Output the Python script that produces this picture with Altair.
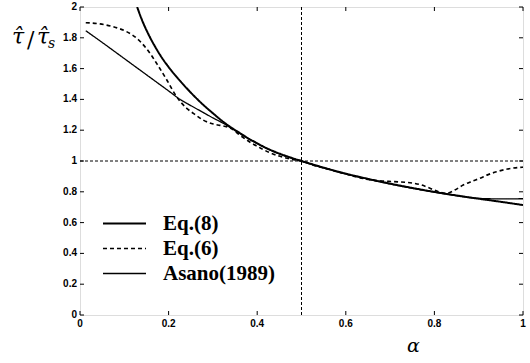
import altair as alt
import pandas as pd

# ---- data ----
series_names = ["Eq.(8)", "Eq.(6)", "Asano(1989)"]

alpha_eq8 = [0.129, 0.14, 0.155, 0.17, 0.185, 0.2, 0.22, 0.24, 0.26, 0.28,
             0.3, 0.32, 0.34, 0.36, 0.38, 0.4, 0.42, 0.44, 0.46, 0.48,
             0.5, 0.55, 0.6, 0.65, 0.7, 0.75, 0.8, 0.85, 0.9, 0.95, 1.0]
tau_eq8 = [2.0, 1.915, 1.82, 1.74, 1.67, 1.61, 1.54, 1.475, 1.415, 1.36,
           1.31, 1.262, 1.22, 1.183, 1.147, 1.115, 1.085, 1.06, 1.038, 1.018,
           1.0, 0.957, 0.918, 0.884, 0.853, 0.825, 0.799, 0.776, 0.755, 0.735, 0.714]

alpha_eq6 = [0.013, 0.045, 0.075, 0.105, 0.128, 0.15, 0.173, 0.196, 0.218, 0.241,
             0.256, 0.278, 0.301, 0.324, 0.339, 0.36, 0.384, 0.41, 0.429, 0.45,
             0.474, 0.5, 0.53, 0.564, 0.6, 0.64, 0.677, 0.71, 0.745, 0.77,
             0.79, 0.81, 0.828, 0.845, 0.865, 0.885, 0.903, 0.92, 0.94, 0.965, 0.99, 1.0]
tau_eq6 = [1.898, 1.89, 1.872, 1.84, 1.797, 1.73, 1.634, 1.526, 1.418, 1.342,
           1.309, 1.266, 1.24, 1.227, 1.215, 1.17, 1.122, 1.08, 1.053, 1.032,
           1.013, 1.0, 0.97, 0.944, 0.916, 0.886, 0.871, 0.866, 0.859, 0.845,
           0.823, 0.80, 0.79, 0.81, 0.844, 0.868, 0.888, 0.91, 0.93, 0.948, 0.958, 0.96]

alpha_asano = [0.013, 0.05, 0.1, 0.15, 0.2, 0.226, 0.25, 0.275, 0.3, 0.32,
               0.34, 0.36, 0.38, 0.4, 0.42, 0.44, 0.46, 0.48, 0.5, 0.55,
               0.6, 0.65, 0.7, 0.75, 0.8, 0.85, 0.9, 0.95, 1.0]
tau_asano = [1.846, 1.77, 1.665, 1.56, 1.455, 1.40, 1.36, 1.32, 1.28, 1.25,
             1.216, 1.18, 1.145, 1.113, 1.083, 1.057, 1.035, 1.016, 0.998, 0.955,
             0.916, 0.882, 0.851, 0.823, 0.798, 0.775, 0.757, 0.754, 0.755]

x_ticks = [0, 0.2, 0.4, 0.6, 0.8, 1]
x_tick_labels = ["0", "0.2", "0.4", "0.6", "0.8", "1"]
y_ticks = [0, 0.2, 0.4, 0.6, 0.8, 1, 1.2, 1.4, 1.6, 1.8, 2]
y_tick_labels = ["0", "0.2", "0.4", "0.6", "0.8", "1", "1.2", "1.4", "1.6", "1.8", "2"]

# ---- tables ----
rows = []
for name, xs, ys in [(series_names[0], alpha_eq8, tau_eq8),
                     (series_names[1], alpha_eq6, tau_eq6),
                     (series_names[2], alpha_asano, tau_asano)]:
    for a, t in zip(xs, ys):
        rows.append({"alpha": a, "tau": t, "series": name})
df = pd.DataFrame(rows)
xt = pd.DataFrame({"alpha": x_ticks, "lab": x_tick_labels})
yt = pd.DataFrame({"tau": y_ticks, "lab": y_tick_labels})
one = pd.DataFrame({"k": [0]})

W, H = 443, 308
xscale = alt.Scale(domain=[0, 1], nice=False, zero=False)
yscale = alt.Scale(domain=[0, 2], nice=False, zero=False)

legend_kw = dict(title=None, orient="none", legendX=34, legendY=206, padding=0,
                 symbolType="M-5,0H5", symbolSize=74, symbolStrokeColor="black",
                 labelFont="Liberation Serif", labelFontSize=21, labelFontWeight="bold",
                 labelColor="black", labelOffset=28, rowPadding=3)

lines = alt.Chart(df).mark_line(interpolate="monotone", color="black", clip=True).encode(
    x=alt.X("alpha:Q", scale=xscale, axis=None),
    y=alt.Y("tau:Q", scale=yscale, axis=None),
    strokeDash=alt.StrokeDash("series:N",
                              scale=alt.Scale(domain=series_names, range=[[1, 0], [4, 3], [1, 0]]),
                              legend=alt.Legend(**legend_kw)),
    strokeWidth=alt.StrokeWidth("series:N",
                                scale=alt.Scale(domain=series_names, range=[2.0, 1.3, 1.0]),
                                legend=alt.Legend(**legend_kw)),
    order=alt.Order("alpha:Q"),
)

hline = alt.Chart(one).mark_rule(color="black", strokeWidth=1, strokeDash=[3, 2]).encode(
    y=alt.datum(1, axis=None))
vline = alt.Chart(one).mark_rule(color="black", strokeWidth=1, strokeDash=[3, 2]).encode(
    x=alt.datum(0.5, axis=None))

tick_style = dict(color="black", strokeWidth=1)
bt = alt.Chart(xt).mark_rule(**tick_style).encode(
    x=alt.X("alpha:Q", axis=None), y=alt.value(H), y2=alt.value(H - 4))
tt = alt.Chart(xt).mark_rule(**tick_style).encode(
    x=alt.X("alpha:Q", axis=None), y=alt.value(0), y2=alt.value(4))
lt = alt.Chart(yt).mark_rule(**tick_style).encode(
    y=alt.Y("tau:Q", axis=None), x=alt.value(0), x2=alt.value(4))
rt = alt.Chart(yt).mark_rule(**tick_style).encode(
    y=alt.Y("tau:Q", axis=None), x=alt.value(W), x2=alt.value(W - 4))

lab_style = dict(font="Liberation Sans", fontWeight="bold", fontSize=10, color="black")
xlabels = alt.Chart(xt).mark_text(align="center", baseline="middle", **lab_style).encode(
    x=alt.X("alpha:Q", axis=None), y=alt.value(H + 9), text="lab:N")
ylabels = alt.Chart(yt).mark_text(align="right", baseline="middle", **lab_style).encode(
    y=alt.Y("tau:Q", axis=None), x=alt.value(-3), text="lab:N")

def txt(s, x, y, size, font="DejaVu Serif", style="italic", weight="normal"):
    return alt.Chart(one).mark_text(text=s, font=font, fontSize=size, fontStyle=style,
                                    fontWeight=weight, align="left", baseline="alphabetic",
                                    color="black").encode(x=alt.value(x), y=alt.value(y))

ylab = (txt("τ\u0302", -68, 37, 22) + txt("/", -53, 40, 22, style="normal")
        + txt("τ\u0302", -43, 37, 22) + txt("s", -32, 41, 14))
xlab = txt("α", 327, 345, 19)

chart = alt.layer(lines, hline, vline, bt, tt, lt, rt, xlabels, ylabels, ylab, xlab).properties(
    width=W, height=H,
    autosize=alt.AutoSizeParams(type="none"),
    padding={"left": 80, "top": 7, "right": 7, "bottom": 48},
).configure_view(
    stroke="black", strokeWidth=1.5
).configure(background="white")

chart.save("out.html", embed_options={"renderer": "svg", "actions": False})
